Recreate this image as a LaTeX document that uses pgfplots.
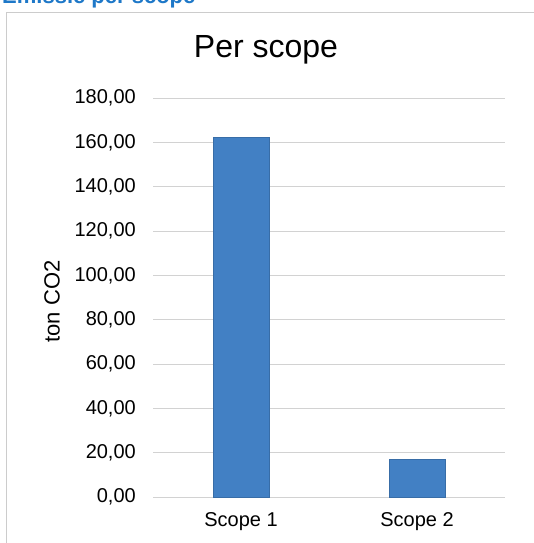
\documentclass[border=0pt]{standalone}
\usepackage{pgfplots}
\pgfplotsset{compat=1.18}
\usepackage{fontspec}
\setmainfont{Liberation Sans}
\definecolor{barblue}{RGB}{66,128,196}
\definecolor{headblue}{RGB}{30,120,200}
\begin{document}
\begin{tikzpicture}[x=1pt,y=1pt]
\clip (0,0) rectangle (534,543);
\useasboundingbox (0,0) rectangle (534,543);
\fill[white] (0,0) rectangle (534,543);
% header (cut off)
\node[anchor=base west, inner sep=0pt, text=headblue, font=\fontsize{22}{26}\selectfont\bfseries] at (2,539) {Emissie per scope};
% frame
\draw[gray!40, line width=0.8pt] (6,0) -- (6,531) -- (534,531);
% title
\node[font=\fontsize{32}{36}\selectfont] at (266,493) {Per scope};
\begin{axis}[
  at={(153pt,46pt)}, anchor=south west,
  scale only axis, width=352pt, height=399pt,
  xmin=-0.5, xmax=1.5, ymin=0, ymax=180,
  axis line style={draw=none},
  major tick length=0pt,
  xtick={0,1}, xticklabels={Scope 1, Scope 2},
  ytick={0,20,...,180},
  ymajorgrids, grid style={gray!35, line width=0.6pt},
  yticklabel={\pgfmathprintnumber[fixed, fixed zerofill, precision=2, use comma]{\tick}},
  /pgf/number format/assume math mode=true,
  yticklabel style={anchor=east, inner sep=0pt, xshift=-17pt, font=\fontsize{20}{22}\selectfont},
  xticklabel style={anchor=north, inner sep=0pt, yshift=-15pt, font=\fontsize{20}{22}\selectfont},
  ylabel={ton CO2},
  ylabel style={at={(axis description cs:-0.287,0.49)}, anchor=center, font=\fontsize{22}{24}\selectfont},
  ybar, bar width=56pt,
]
\addplot[fill=barblue, draw=barblue!85!black, line width=0.6pt] coordinates {(0,162.2) (1,16.8)};
\end{axis}
\end{tikzpicture}
\end{document}
